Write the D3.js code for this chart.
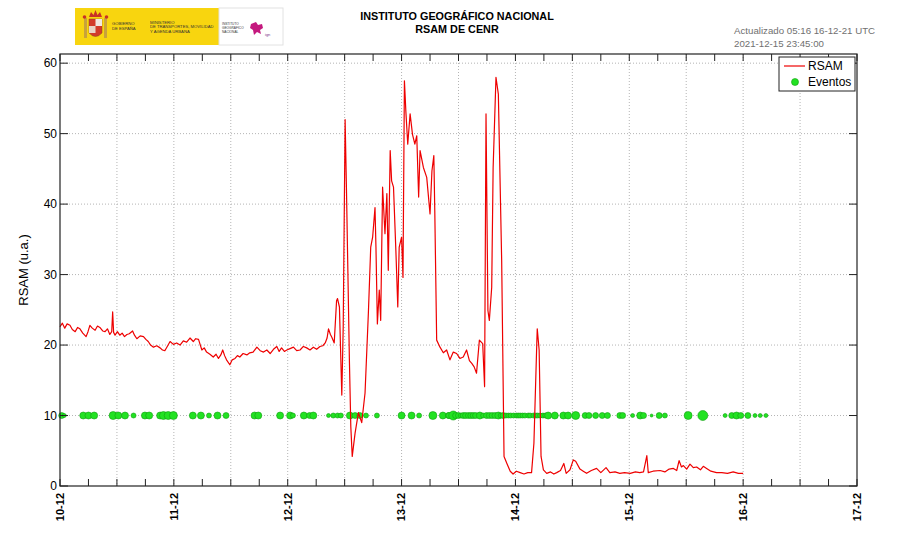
<!DOCTYPE html>
<html>
<head>
<meta charset="utf-8">
<script src="https://cdn.jsdelivr.net/npm/d3@7"></script>
<style>
    body { margin: 0; background: #fff; }
    svg { display: block; font-family: "Liberation Sans", Arial, sans-serif; }
</style>
</head>
<body>
<div id="rsam-chart"></div>
<script>
// Tick labels
const dayLabels = ["10-12", "11-12", "12-12", "13-12", "14-12", "15-12", "16-12", "17-12"];
const yTickValues = [0, 10, 20, 30, 40, 50, 60];

// RSAM series: hours since 10-12 00:00 UTC and value (u.a.)
const rsamHours = [
    0, 0.5, 1.0, 1.5, 2.1, 2.6, 3.2, 3.7, 4.2, 4.8, 5.5, 5.9, 6.3, 6.8, 7.4, 7.9, 8.4, 9.0, 9.5, 10.0,
    10.5, 10.9, 11.1, 11.3, 11.6, 12.1, 12.6, 13.1, 13.6, 14.1, 14.6, 15.3, 15.7, 16.2, 16.9, 17.6, 18.1, 18.6, 19.1, 19.7,
    20.4, 21.1, 21.6, 22.1, 22.7, 23.2, 23.9, 24.6, 25.3, 26.0, 26.7, 27.4, 28.1, 28.6, 29.2, 29.9, 30.4, 30.9, 31.6, 32.3,
    32.9, 33.4, 33.9, 34.3, 34.7, 35.1, 35.8, 36.3, 36.9, 37.4, 37.9, 38.6, 39.4, 40.0, 40.7, 41.5, 42.2, 42.9, 43.6, 44.3,
    45.0, 45.7, 46.2, 46.7, 47.3, 47.8, 48.5, 49.2, 49.9, 50.6, 51.3, 52.0, 52.7, 53.4, 54.1, 54.8, 55.4, 55.9, 56.3, 56.6,
    57.0, 57.3, 57.8, 58.3, 58.5, 58.9, 59.4, 59.7, 60.1, 60.4, 61.0, 61.3, 61.6, 62.2, 62.9, 63.6, 64.3, 65.0, 65.5, 65.9,
    66.4, 66.6, 66.9, 67.3, 67.6, 68.0, 68.5, 68.9, 69.2, 69.6, 69.9, 70.3, 70.8, 71.2, 71.5, 72.0, 72.3, 72.6, 72.9, 73.3,
    73.8, 74.3, 74.8, 75.2, 75.6, 75.9, 76.6, 77.3, 78.0, 78.4, 78.8, 79.0, 79.4, 80.1, 80.8, 81.5, 82.2, 82.9, 83.6, 84.3,
    85.0, 85.7, 86.3, 86.8, 87.3, 87.8, 88.4, 89.1, 89.5, 89.8, 90.2, 90.5, 91.0, 91.3, 91.9, 92.4, 93.1, 93.6, 94.2, 94.9,
    95.5, 96.2, 97.0, 97.8, 98.6, 99.4, 99.9, 100.5, 100.6, 101.0, 101.4, 101.9, 102.6, 103.4, 104.1, 104.7, 105.5, 106.2, 106.7, 107.5,
    108.2, 108.7, 109.6, 110.3, 111.0, 112.0, 113.1, 114.0, 115.1, 115.9, 117.0, 118.0, 119.0, 120.2, 121.3, 122.2, 123.0, 123.7, 124.0, 125.0,
    126.5, 127.5, 128.4, 129.3, 130.0, 130.5, 131.0, 131.4, 132.1, 132.8, 133.5, 134.2, 135.0, 135.6, 136.3, 137.2, 138.4, 139.5, 140.7, 141.9,
    143.0, 144.0
];
const rsamValues = [
    22.6, 23.1, 22.4, 23.0, 22.8, 22.2, 21.9, 22.5, 22.3, 21.7, 21.2, 21.9, 22.8, 22.4, 22.1, 22.7, 22.5, 22.0, 21.9, 22.3,
    21.5, 21.9, 24.7, 21.8, 21.4, 21.9, 21.4, 21.7, 21.2, 21.5, 21.6, 22.0, 21.4, 20.9, 21.3, 21.2, 20.8, 20.5, 20.0, 19.7,
    19.9, 19.6, 19.3, 19.2, 19.9, 20.5, 20.1, 20.3, 20.0, 20.6, 20.4, 21.0, 20.5, 20.9, 20.8, 19.3, 19.6, 19.0, 18.7, 18.3,
    18.7, 18.1, 18.6, 19.3, 18.5, 17.9, 17.2, 17.9, 18.1, 18.5, 18.3, 18.8, 18.6, 18.9, 19.0, 19.7, 19.2, 19.0, 19.3, 18.8,
    19.4, 19.8, 19.1, 19.6, 19.1, 19.3, 19.5, 19.7, 19.2, 19.3, 19.8, 19.6, 19.3, 19.7, 19.4, 19.8, 19.9, 20.3, 21.0, 22.3,
    21.5, 21.1, 20.3, 26.3, 26.6, 25.4, 12.9, 22.6, 52.0, 41.5, 17.9, 8.4, 4.2, 7.5, 10.4, 9.0, 13.2, 24.5, 33.9, 35.3,
    39.5, 33.9, 23.0, 27.8, 23.5, 42.4, 35.8, 41.5, 30.6, 47.6, 43.3, 42.4, 33.4, 25.4, 33.9, 35.3, 29.6, 57.5, 53.2, 48.5,
    52.8, 49.9, 48.5, 49.7, 41.0, 47.6, 45.2, 43.8, 38.6, 44.7, 46.9, 39.1, 20.7, 19.7, 18.9, 19.3, 17.9, 19.0, 18.8, 18.1,
    18.3, 19.3, 17.8, 17.4, 16.9, 16.0, 20.7, 20.2, 14.1, 52.8, 24.9, 23.5, 28.2, 45.2, 58.0, 55.6, 32.0, 4.2, 3.2, 2.1,
    1.7, 2.1, 1.9, 1.7, 1.9, 1.9, 6.1, 20.2, 22.3, 19.3, 4.2, 2.3, 1.8, 2.0, 1.7, 1.9, 2.2, 3.2, 1.8, 2.3,
    3.7, 3.5, 2.4, 2.1, 1.8, 2.2, 2.5, 1.9, 2.6, 1.9, 2.0, 1.8, 1.9, 1.8, 2.0, 1.9, 2.0, 4.3, 1.9, 2.1,
    2.2, 2.0, 2.4, 2.5, 2.2, 3.6, 2.7, 2.9, 2.4, 3.1, 2.6, 2.7, 2.3, 2.8, 2.5, 2.1, 1.9, 1.9, 1.8, 2.0,
    1.8, 1.8
];

// Eventos: hours since 10-12 00:00 UTC and marker radius (px)
const eventLevel = 10;
const eventHours = [
    0.36, 0.9, 4.9, 6.0, 7.2, 11.2, 12.3, 13.7, 15.5, 17.9, 18.8, 21.1, 21.8, 22.8, 23.9, 28.0, 29.7, 31.4, 33.2, 35.0,
    41.0, 41.8, 46.4, 48.5, 49.1, 51.4, 52.6, 53.4, 56.6, 57.6, 58.5, 59.2, 61.1, 62.2, 63.2, 64.5, 66.8, 72.0, 74.1, 75.7,
    78.6, 80.7, 81.9, 82.0, 82.9, 83.4, 84.0, 84.5, 85.0, 85.5, 86.1, 86.6, 87.1, 87.6, 88.5, 89.2, 89.9, 90.5, 91.1, 91.7,
    92.4, 92.9, 93.4, 94.0, 94.5, 95.0, 95.6, 96.2, 96.6, 97.0, 97.5, 98.0, 98.7, 99.1, 99.8, 100.3, 100.7, 101.2, 101.8, 102.3,
    102.9, 104.3, 106.1, 107.1, 108.7, 110.7, 111.5, 112.9, 114.3, 115.4, 118.0, 118.6, 120.7, 122.3, 123.0, 124.7, 126.3, 127.5, 132.4, 135.5,
    140.2, 141.6, 142.6, 143.5, 145.0, 146.5, 147.6, 148.8
];
const eventSizes = [
    3, 2, 3.5, 3.5, 3.5, 4, 3.5, 3.5, 2.5, 3.5, 3.5, 3.5, 4, 4, 4, 3.5, 3.5, 2.5, 3.5, 3,
    3.5, 3.5, 3.5, 3.5, 2.5, 3.5, 3, 3.5, 2, 2.5, 2.5, 2.5, 3.5, 3, 3, 2.5, 2.5, 3.5, 3.5, 2.5,
    4, 3.5, 3, 3, 4.5, 3, 3, 2.5, 3, 3, 3, 3, 3, 3, 3.5, 2.5, 3, 3, 3, 3,
    3.5, 2.5, 3, 2.5, 2.5, 2.5, 2.5, 2.5, 2.5, 2.5, 2.5, 2.5, 2.5, 2.5, 2.5, 2.5, 2.5, 2.5, 2.5, 2.5,
    3.5, 3.5, 3.5, 3.5, 4, 3, 3, 3, 3, 3, 3, 3, 2, 3.5, 3, 1.5, 3, 2.5, 4, 5,
    2, 3, 3.5, 3, 3, 2, 2, 2
];

function drawChart() {
    const width = 900, height = 540;
    const plot = { left: 60, right: 857, top: 54, bottom: 486 };

    const svg = d3.select("#rsam-chart")
        .append("svg")
        .attr("width", width)
        .attr("height", height);

    // Scales: x in hours from 10-12 to 17-12, y in RSAM units
    const xScale = d3.scaleLinear()
        .domain([0, 168])
        .range([plot.left, plot.right]);
    const yScale = d3.scaleLinear()
        .domain([0, 61.3])
        .range([plot.bottom, plot.top]);

    const dayTicks = dayLabels.map((d, i) => i * 24);
    const sixHourTicks = d3.range(0, 169, 6);
    const halfDayTicks = d3.range(12, 168, 12);

    // Header: logo block
    const logo = svg.append("g");
    logo.append("rect")
        .attr("x", 75).attr("y", 8).attr("width", 144).attr("height", 37)
        .attr("fill", "#f8d50f");
    logo.append("rect")
        .attr("x", 219).attr("y", 8).attr("width", 64).attr("height", 37)
        .attr("fill", "#fff").attr("stroke", "#e2e2e2").attr("stroke-width", 1);
    // coat of arms (simplified)
    logo.append("rect").attr("x", 84).attr("y", 18).attr("width", 3).attr("height", 20).attr("fill", "#c8a23c");
    logo.append("rect").attr("x", 104).attr("y", 18).attr("width", 3).attr("height", 20).attr("fill", "#c8a23c");
    logo.append("path")
        .attr("d", "M89,19 L102,19 L102,33 Q95.5,40 89,33 Z")
        .attr("fill", "#d23a2a").attr("stroke", "#8a4a1c").attr("stroke-width", 0.5);
    logo.append("rect").attr("x", 95.5).attr("y", 19).attr("width", 6.5).attr("height", 7).attr("fill", "#f0e6e0");
    logo.append("rect").attr("x", 89).attr("y", 26).attr("width", 6.5).attr("height", 7).attr("fill", "#e9d3c6");
    logo.append("path")
        .attr("d", "M89,17 L91,12 L93.5,15 L95.5,10 L97.5,15 L100,12 L102,17 Z")
        .attr("fill", "#c83226");
    logo.append("circle").attr("cx", 84.5).attr("cy", 17).attr("r", 1.8).attr("fill", "#c83226");
    logo.append("circle").attr("cx", 106.5).attr("cy", 17).attr("r", 1.8).attr("fill", "#c83226");

    const smallText = (x, y, txt, size) => logo.append("text")
        .attr("x", x).attr("y", y)
        .style("font-size", size + "px")
        .attr("fill", "#333")
        .text(txt);
    smallText(112, 25, "GOBIERNO", 4.2);
    smallText(112, 29.5, "DE ESPAÑA", 4.2);
    smallText(150, 23.5, "MINISTERIO", 4.2);
    smallText(150, 28, "DE TRANSPORTES, MOVILIDAD", 4.2);
    smallText(150, 32.5, "Y AGENDA URBANA", 4.2);
    smallText(222, 24.5, "INSTITUTO", 3.2);
    smallText(222, 28.5, "GEOGRÁFICO", 3.2);
    smallText(222, 32.5, "NACIONAL", 3.2);
    logo.append("path")
        .attr("d", "M251,24 L256,22 L258,25 L262,24 L263,28 L260,30 L261,34 L257,32 L254,35 L253,30 L250,28 Z")
        .attr("fill", "#c4197e");
    logo.append("text")
        .attr("x", 265).attr("y", 36)
        .style("font-size", "4px").attr("fill", "#7a3c8c")
        .text("ign");

    // Header: title and update time
    svg.append("text")
        .attr("x", 457).attr("y", 20)
        .attr("text-anchor", "middle")
        .style("font-size", "10.8px").style("font-weight", "bold")
        .text("INSTITUTO GEOGRÁFICO NACIONAL");
    svg.append("text")
        .attr("x", 457).attr("y", 33)
        .attr("text-anchor", "middle")
        .style("font-size", "10.8px").style("font-weight", "bold")
        .text("RSAM DE CENR");
    svg.append("text")
        .attr("x", 734).attr("y", 34)
        .style("font-size", "9.7px").attr("fill", "#707070")
        .text("Actualizado 05:16 16-12-21 UTC");
    svg.append("text")
        .attr("x", 734).attr("y", 47)
        .style("font-size", "9.7px").attr("fill", "#707070")
        .text("2021-12-15 23:45:00");

    // Grid lines (dotted)
    const grid = svg.append("g")
        .attr("stroke", "#b4b4b4")
        .attr("stroke-width", 1)
        .attr("stroke-dasharray", "1,2");
    grid.selectAll(".vgrid")
        .data(halfDayTicks)
        .enter().append("line")
        .attr("x1", d => xScale(d)).attr("x2", d => xScale(d))
        .attr("y1", plot.top).attr("y2", plot.bottom);
    grid.selectAll(".hgrid")
        .data(yTickValues.filter(v => v > 0))
        .enter().append("line")
        .attr("x1", plot.left).attr("x2", plot.right)
        .attr("y1", d => yScale(d)).attr("y2", d => yScale(d));

    // Eventos markers at constant level
    const events = eventHours.map((h, i) => ({ h: h, r: eventSizes[i] }));
    svg.append("g")
        .selectAll("circle")
        .data(events)
        .enter().append("circle")
        .attr("cx", d => xScale(d.h))
        .attr("cy", yScale(eventLevel))
        .attr("r", d => d.r)
        .attr("fill", "#22e222")
        .attr("stroke", "#12a012")
        .attr("stroke-width", 0.6);

    // RSAM line
    const rsam = rsamHours.map((h, i) => ({ h: h, v: rsamValues[i] }));
    const lineGenerator = d3.line()
        .x(d => xScale(d.h))
        .y(d => yScale(d.v));
    svg.append("path")
        .datum(rsam)
        .attr("fill", "none")
        .attr("stroke", "#ee0000")
        .attr("stroke-width", 1.2)
        .attr("stroke-linejoin", "round")
        .attr("d", lineGenerator);

    // Inward ticks on all four sides
    const ticks = svg.append("g").attr("stroke", "#222").attr("stroke-width", 1);
    ticks.selectAll(".tb")
        .data(sixHourTicks)
        .enter().append("line")
        .attr("x1", d => xScale(d)).attr("x2", d => xScale(d))
        .attr("y1", plot.bottom).attr("y2", plot.bottom - 7);
    ticks.selectAll(".tt")
        .data(sixHourTicks)
        .enter().append("line")
        .attr("x1", d => xScale(d)).attr("x2", d => xScale(d))
        .attr("y1", plot.top).attr("y2", plot.top + 7);
    ticks.selectAll(".tl")
        .data(yTickValues)
        .enter().append("line")
        .attr("x1", plot.left).attr("x2", plot.left + 8)
        .attr("y1", d => yScale(d)).attr("y2", d => yScale(d));
    ticks.selectAll(".tr")
        .data(yTickValues)
        .enter().append("line")
        .attr("x1", plot.right).attr("x2", plot.right - 8)
        .attr("y1", d => yScale(d)).attr("y2", d => yScale(d));

    // Plot frame
    svg.append("rect")
        .attr("x", plot.left).attr("y", plot.top)
        .attr("width", plot.right - plot.left)
        .attr("height", plot.bottom - plot.top)
        .attr("fill", "none")
        .attr("stroke", "#222")
        .attr("stroke-width", 1.2);

    // Y tick labels
    svg.append("g")
        .selectAll("text")
        .data(yTickValues)
        .enter().append("text")
        .attr("x", plot.left - 3)
        .attr("y", d => yScale(d))
        .attr("dy", "0.35em")
        .attr("text-anchor", "end")
        .style("font-size", "12px")
        .text(d => d);

    // X tick labels, rotated
    svg.append("g")
        .selectAll("text")
        .data(dayTicks)
        .enter().append("text")
        .attr("transform", d => `translate(${xScale(d)},${plot.bottom + 7}) rotate(-90)`)
        .attr("dy", "0.35em")
        .attr("text-anchor", "end")
        .style("font-size", "11px")
        .style("font-weight", "bold")
        .text((d, i) => dayLabels[i]);

    // Y axis label
    svg.append("text")
        .attr("transform", `translate(28,${(plot.top + plot.bottom) / 2}) rotate(-90)`)
        .attr("text-anchor", "middle")
        .style("font-size", "13px")
        .text("RSAM (u.a.)");

    // Legend
    const legend = svg.append("g").attr("transform", "translate(779,57)");
    legend.append("rect")
        .attr("width", 76).attr("height", 34)
        .attr("fill", "#fff").attr("stroke", "#222").attr("stroke-width", 1);
    legend.append("line")
        .attr("x1", 5).attr("x2", 26).attr("y1", 9).attr("y2", 9)
        .attr("stroke", "#ee0000").attr("stroke-width", 1.2);
    legend.append("text")
        .attr("x", 29).attr("y", 13)
        .style("font-size", "12px")
        .text("RSAM");
    legend.append("circle")
        .attr("cx", 16).attr("cy", 25).attr("r", 3.5)
        .attr("fill", "#22e222").attr("stroke", "#12a012").attr("stroke-width", 0.6);
    legend.append("text")
        .attr("x", 29).attr("y", 29)
        .style("font-size", "12px")
        .text("Eventos");
}

document.addEventListener('DOMContentLoaded', function () {
    drawChart();
});
</script>
</body>
</html>
